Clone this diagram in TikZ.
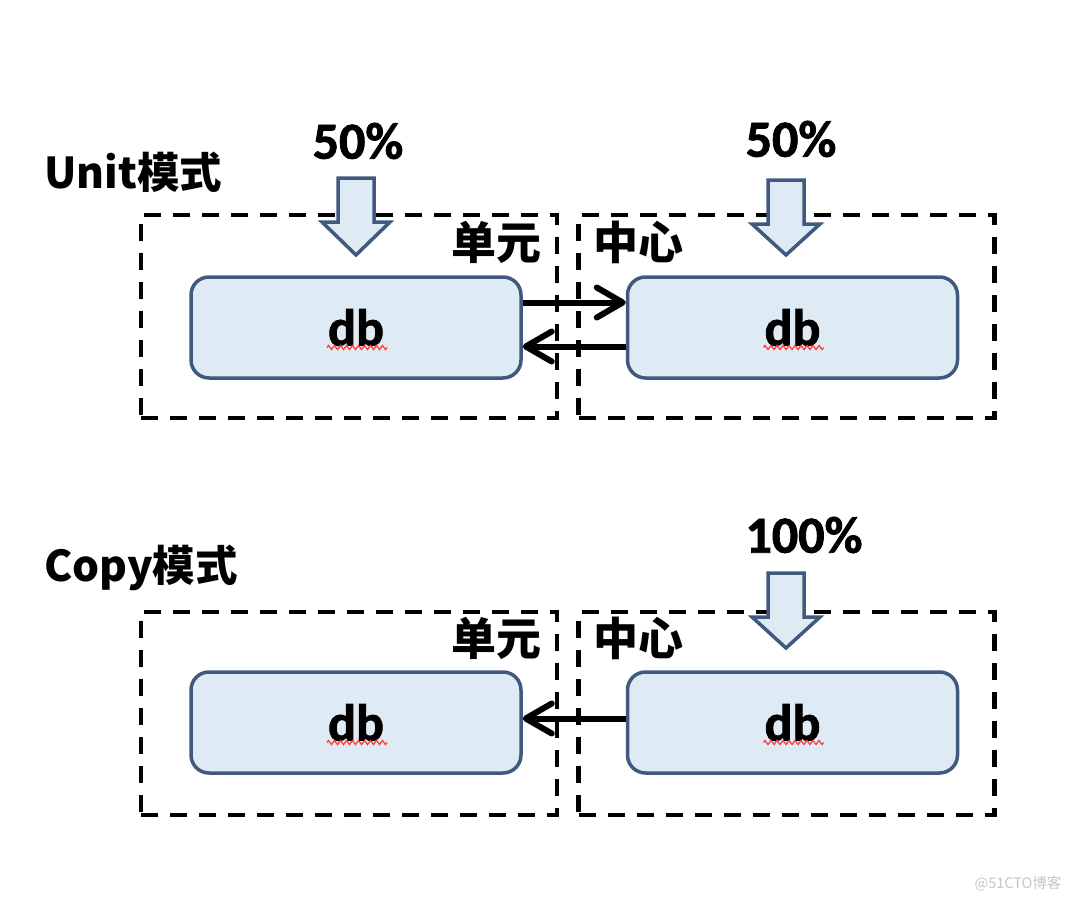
\documentclass[tikz,border=0pt]{standalone}
\usepackage{fontspec}
\setmainfont{Carlito}[BoldFeatures={FakeBold=1.6}]
\newfontfamily\cjk{Noto Sans CJK SC}
\usetikzlibrary{arrows.meta,decorations.pathmorphing}
\definecolor{boxline}{HTML}{41597F}
\definecolor{boxfill}{HTML}{DEEBF5}
\tikzset{
  dbbox/.style={draw=boxline, fill=boxfill, line width=3.5pt, rounded corners=18pt,
    minimum width=330pt, minimum height=101pt, font=\fontsize{52}{52}\selectfont\bfseries},
  zone/.style={draw, dash pattern=on 17pt off 12pt, line width=4.2pt,
    minimum width=416pt, minimum height=203pt},
  flow/.style={line width=6pt, -{Straight Barb[length=26pt,width=30pt,round]}},
  blockarrow/.style={draw=boxline, fill=boxfill, line width=3.5pt},
  pct/.style={inner sep=0pt, font=\fontsize{52}{52}\selectfont\bfseries},
  mode/.style={inner sep=0pt, anchor=west, font=\cjk\fontsize{42.5}{42.5}\selectfont\bfseries},
  zonelabel/.style={inner sep=0pt, font=\cjk\fontsize{45}{45}\selectfont\bfseries},
  squiggle/.style={red!75, line width=1.3pt, decorate,
    decoration={zigzag, amplitude=2pt, segment length=6pt}}
}
\begin{document}
\begin{tikzpicture}[x=1pt,y=-1pt]
  \useasboundingbox (0,0) rectangle (1072,902);
  % Unit mode
  \node[mode] (unit) at (44,172) {Unit模式};
  \node[zone] (uunit) at (349,316.5) {};
  \node[zone] (ucenter) at (786.5,316.5) {};
  \node[zonelabel, anchor=east] (uunitlbl) at (542,242) {单元};
  \node[zonelabel, anchor=west] (ucenterlbl) at (593,242) {中心};
  \node[pct] (upctl) at (358,141) {50\%};
  \node[pct] (upctr) at (791,139) {50\%};
  \node[dbbox] (udbl) at (356,327.5) {db};
  \node[dbbox] (udbr) at (792.5,327.5) {db};
  \draw[flow] ([yshift=25pt]udbl.east) -- ([yshift=25pt]udbr.west);
  \draw[flow] ([yshift=-19pt]udbr.west) -- ([yshift=-19pt]udbl.east);
  % Copy mode
  \node[mode] (copy) at (44,568) {Copy模式};
  \node[zone] (cunit) at (349,713.5) {};
  \node[zone] (ccenter) at (786.5,713.5) {};
  \node[zonelabel, anchor=east] (cunitlbl) at (542,638) {单元};
  \node[zonelabel, anchor=west] (ccenterlbl) at (593,638) {中心};
  \node[pct] (cpct) at (804,535) {100\%};
  \node[dbbox] (cdbl) at (356,722.5) {db};
  \node[dbbox] (cdbr) at (792.5,722.5) {db};
  \draw[flow] ([yshift=4pt]cdbr.west) -- ([yshift=4pt]cdbl.east);
  % load arrows
  \foreach \cx/\top/\tip in {356/178/255, 786/180/255, 786/573/648}
    \draw[blockarrow] (\cx-18,\top) -- (\cx+18,\top) -- (\cx+18,\top+44)
      -- (\cx+34,\top+44) -- (\cx,\tip) -- (\cx-34,\top+44) -- (\cx-18,\top+44) -- cycle;
  \foreach \b in {udbl,udbr,cdbl,cdbr}
    \draw[squiggle] ([shift={(-29,20)}]\b.center) -- ++(60,0);
  \node[inner sep=0pt, text=gray!45, font=\cjk\fontsize{14.5}{14.5}\selectfont] (mark) at (1018,884) {@51CTO博客};
\end{tikzpicture}
\end{document}
